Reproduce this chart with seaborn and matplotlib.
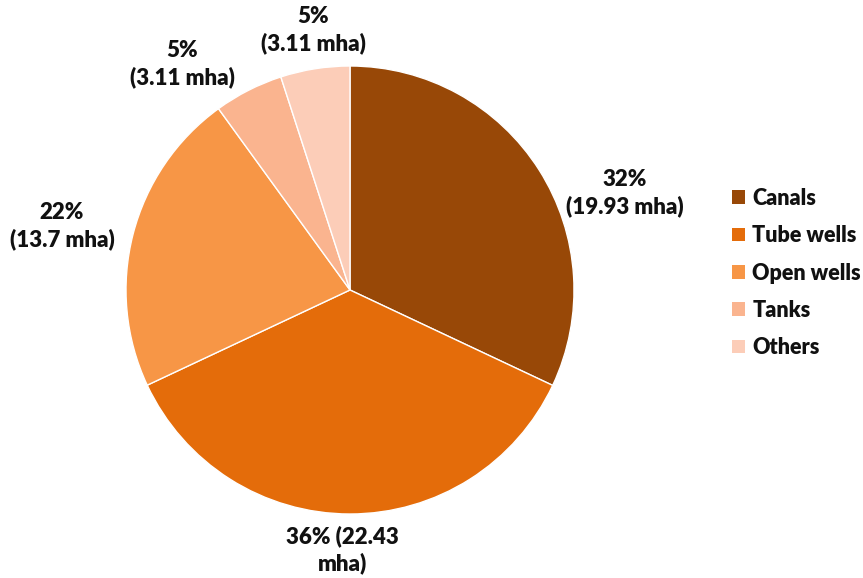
import matplotlib
matplotlib.use("Agg")
import matplotlib.pyplot as plt
import matplotlib.patches as mpatches
import seaborn as sns

sources = ["Canals", "Tube wells", "Open wells", "Tanks", "Others"]
area_mha = [19.93, 22.43, 13.7, 3.11, 3.11]
shares = [32, 36, 22, 5, 5]
labels = ["32%\n(19.93 mha)", "36% (22.43\nmha)", "22%\n(13.7 mha)",
          "5%\n(3.11 mha)", "5%\n(3.11 mha)"]
colors = ["#984807", "#E46C0A", "#F79646", "#FAB48F", "#FCCDB8"]

sns.set_theme(style="white")
plt.rcParams["font.family"] = ["Lato", "DejaVu Sans"]

fig = plt.figure(figsize=(8.63, 5.78), dpi=100)
ax = fig.add_axes([126 / 863, 1 - 514 / 578, 448 / 863, 448 / 578])

wedges, _ = ax.pie(area_mha, colors=colors, startangle=90, counterclock=False,
                   radius=1, wedgeprops=dict(edgecolor="white", linewidth=1.0))
ax.set_xlim(-1, 1)
ax.set_ylim(-1, 1)
ax.set_aspect("equal")
ax.axis("off")

# label positions in pixels of the reference image
label_px = [(625, 193), (342, 550), (62, 226), (182, 64), (313, 30)]
for lab, (px, py) in zip(labels, label_px):
    fig.text(px / 863, 1 - py / 578, lab, ha="center", va="center",
             fontsize=16, fontweight="heavy", color="#111111",
             linespacing=1.3, multialignment="center")

handles = [mpatches.Patch(facecolor=c, edgecolor="none") for c in colors]
fig.legend(handles, sources, loc="center left",
           bbox_to_anchor=(732 / 863, 1 - 273 / 578), frameon=False,
           prop={"weight": "heavy", "size": 15.5}, labelcolor="#111111",
           handlelength=0.6, handleheight=0.6, handletextpad=0.35,
           labelspacing=0.76, borderpad=0, borderaxespad=0)

fig.savefig("out.png", dpi=100)
